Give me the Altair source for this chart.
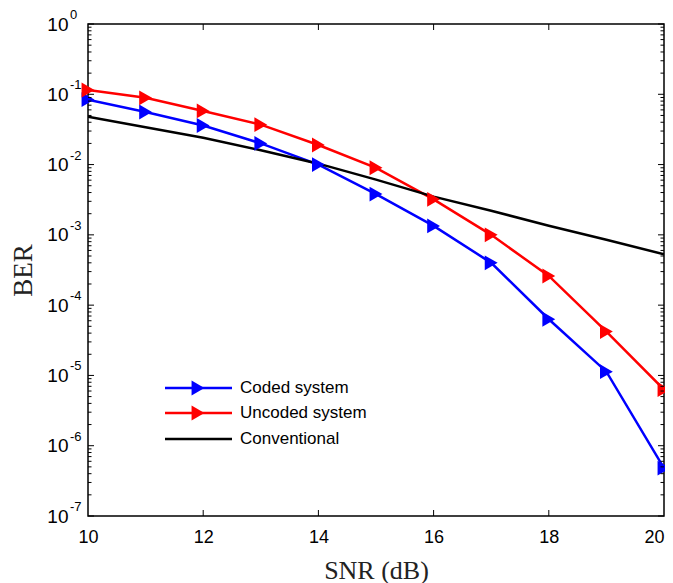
import altair as alt
import pandas as pd

snr = list(range(10, 21))
coded = [0.084, 0.056, 0.036, 0.020, 0.0100, 0.0038, 0.00134, 0.00040, 6.3e-5, 1.13e-5, 4.8e-7]
uncoded = [0.115, 0.089, 0.058, 0.037, 0.019, 0.0090, 0.0032, 0.0010, 2.6e-4, 4.2e-5, 6.3e-6]
conventional = [0.048, 0.034, 0.024, 0.016, 0.0103, 0.0061, 0.0035, 0.0022, 0.00135, 0.00085, 0.00053]
series_names = ["Coded system", "Uncoded system", "Conventional"]
series_colors = ["#0000FF", "#FF0000", "#000000"]
series_markers = [True, True, False]
x_ticks = [10, 12, 14, 16, 18, 20]
y_exponents = [0, -1, -2, -3, -4, -5, -6, -7]
minor_mult = [2, 3, 4, 5, 6, 7, 8, 9]

W, H = 576, 492

rows = []
for name, vals in zip(series_names, [coded, uncoded, conventional]):
    for s, v in zip(snr, vals):
        rows.append({"x": s, "y": v, "series": name})
df = pd.DataFrame(rows)

major_df = pd.DataFrame({"y": [10.0 ** e for e in y_exponents]})
minor_df = pd.DataFrame({"y": [m * 10.0 ** e for e in y_exponents[1:] for m in minor_mult]})
xt_df = pd.DataFrame({"x": x_ticks[1:-1]})
exp_df = pd.DataFrame({"y": [10.0 ** e for e in y_exponents], "e": [str(e) for e in y_exponents]})

xscale = alt.Scale(domain=[10, 20], nice=False, zero=False)
yscale = alt.Scale(type="log", domain=[1e-7, 1], nice=False)
xaxis = alt.Axis(values=x_ticks, title="SNR (dB)", grid=False, ticks=False, domain=False,
                 labelFont="Liberation Sans", labelFontSize=18, labelColor="black", labelPadding=12,
                 labelFlush=False,
                 labelAlign={"condition": {"test": "datum.value >= 20", "value": "right"},
                             "value": "center"},
                 titleFont="Liberation Serif", titleFontSize=26, titleFontWeight="normal",
                 titleColor="#222222", titlePadding=11)
yaxis = alt.Axis(values=[10.0 ** e for e in y_exponents], labelExpr="'10'", title="BER", grid=False,
                 ticks=False, domain=False, labelFont="Liberation Sans", labelFontSize=19,
                 labelColor="black", labelPadding=20, labelBaseline="middle", labelFlush=False,
                 titleFont="Liberation Serif", titleFontSize=27, titleFontWeight="normal",
                 titleColor="#222222", titlePadding=9)

color = alt.Color("series:N", scale=alt.Scale(domain=series_names, range=series_colors), legend=None)

lines = alt.Chart(df).mark_line(strokeWidth=2.5, clip=True).encode(
    x=alt.X("x:Q", scale=xscale, axis=xaxis),
    y=alt.Y("y:Q", scale=yscale, axis=yaxis),
    color=color,
    detail="series:N",
)
points = alt.Chart(df[df.series != "Conventional"]).mark_point(
    shape="triangle-right", filled=True, size=220, opacity=1
).encode(
    x=alt.X("x:Q", scale=xscale, axis=xaxis),
    y=alt.Y("y:Q", scale=yscale, axis=yaxis),
    color=color,
)

def yticks(data, length):
    left = alt.Chart(data).mark_rule(color="black", strokeWidth=1).encode(
        y=alt.Y("y:Q", scale=yscale, axis=yaxis), x=alt.value(0), x2=alt.value(length))
    right = alt.Chart(data).mark_rule(color="black", strokeWidth=1).encode(
        y=alt.Y("y:Q", scale=yscale, axis=yaxis), x=alt.value(W), x2=alt.value(W - length))
    return [left, right]

xt_bottom = alt.Chart(xt_df).mark_rule(color="black", strokeWidth=1).encode(
    x=alt.X("x:Q", scale=xscale, axis=xaxis), y=alt.value(H), y2=alt.value(H - 6))
xt_top = alt.Chart(xt_df).mark_rule(color="black", strokeWidth=1).encode(
    x=alt.X("x:Q", scale=xscale, axis=xaxis), y=alt.value(0), y2=alt.value(6))

exps = alt.Chart(exp_df).mark_text(align="left", baseline="middle", fontSize=13,
                                   font="Liberation Sans", color="black", dy=-9).encode(
    x=alt.value(-18), y=alt.Y("y:Q", scale=yscale, axis=yaxis), text="e:N")

legend_layers = []
leg_y = [364, 389, 415]
for name, col, mk, yy in zip(series_names, series_colors, series_markers, leg_y):
    d = pd.DataFrame({"t": [name]})
    legend_layers.append(alt.Chart(d).mark_rule(color=col, strokeWidth=2.5).encode(
        x=alt.value(77), x2=alt.value(144), y=alt.value(yy)))
    if mk:
        legend_layers.append(alt.Chart(d).mark_point(shape="triangle-right", filled=True, size=220,
                                                     opacity=1, color=col).encode(
            x=alt.value(110), y=alt.value(yy)))
    legend_layers.append(alt.Chart(d).mark_text(align="left", baseline="middle", fontSize=17,
                                                font="Liberation Sans", color="black").encode(
        x=alt.value(152), y=alt.value(yy), text="t:N"))

chart = alt.layer(
    lines, points, *yticks(major_df, 6), *yticks(minor_df, 3.5), xt_bottom, xt_top, exps,
    *legend_layers
).properties(
    width=W, height=H,
    autosize=alt.AutoSizeParams(type="none"),
    padding={"left": 80, "top": 16, "right": 1, "bottom": 80},
    background="white",
).configure_view(stroke="black", strokeWidth=1.5)

chart.save("out.html", embed_options={"renderer": "svg", "actions": False})
